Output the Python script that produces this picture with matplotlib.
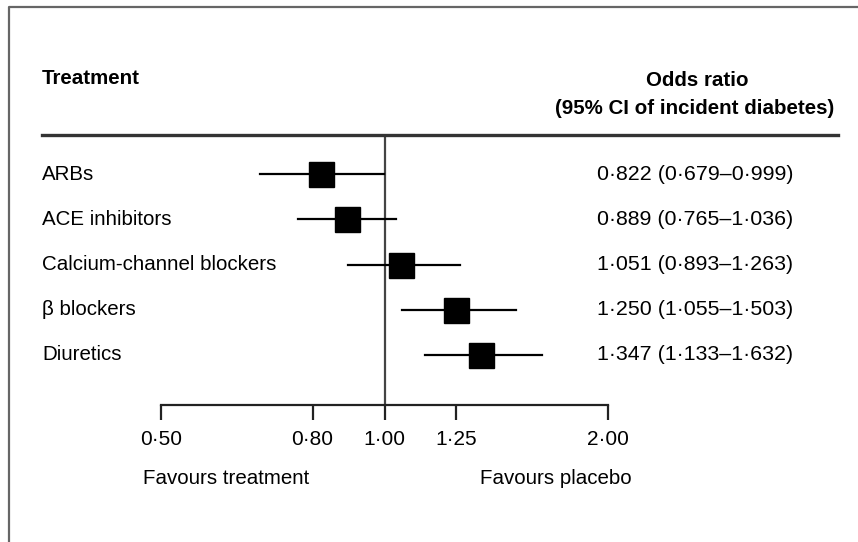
import matplotlib
matplotlib.use("Agg")
import matplotlib.pyplot as plt
import matplotlib.transforms as transforms
from matplotlib.lines import Line2D
from matplotlib.ticker import NullLocator

# data
treatments = ["ARBs", "ACE inhibitors", "Calcium-channel blockers", "\u03b2 blockers", "Diuretics"]
odds = [0.822, 0.889, 1.051, 1.250, 1.347]
ci_low = [0.679, 0.765, 0.893, 1.055, 1.133]
ci_high = [0.999, 1.036, 1.263, 1.503, 1.632]
tick_vals = [0.50, 0.80, 1.00, 1.25, 2.00]
tick_labels = ["0\u00b750", "0\u00b780", "1\u00b700", "1\u00b725", "2\u00b700"]

W, H = 858, 542
plt.rcParams["font.family"] = ["Liberation Sans", "DejaVu Sans"]

def fx(x):
    return x / W

def fy(y):
    return 1 - y / H

def fmt(v):
    return ("%.3f" % v).replace(".", "\u00b7")

fig = plt.figure(figsize=(W / 100, H / 100), dpi=100)

# frame (only top and left edges visible)
fig.add_artist(Line2D([fx(9), fx(9), 1.0], [0.0, fy(7), fy(7)], color="#666666", lw=1.6))

# forest axes: log x from 0.5 to 2.0
ax = fig.add_axes([fx(161), fy(405), fx(608) - fx(161), fy(135) - fy(405)])
ax.set_xscale("log")
ax.set_xlim(0.5, 2.0)
ax.set_ylim(5.105, -0.862)
ax.xaxis.set_minor_locator(NullLocator())
ax.set_xticks(tick_vals)
ax.set_xticklabels(tick_labels)
ax.set_yticks([])
for s in ["left", "top", "right"]:
    ax.spines[s].set_visible(False)
ax.spines["bottom"].set_linewidth(1.6)
ax.spines["bottom"].set_color("#222222")
ax.tick_params(axis="x", direction="out", length=11, width=1.6, color="#222222",
               pad=7, labelsize=15)
ax.patch.set_alpha(0)

ax.axvline(1.0, color="#444444", lw=1.6, zorder=1)

rows = list(range(len(treatments)))
for i in rows:
    ax.plot([ci_low[i], ci_high[i]], [i, i], color="black", lw=1.6, zorder=2)
ax.plot(odds, rows, linestyle="none", marker="s", markersize=18, color="black", zorder=3)

# row labels and values
trans = transforms.blended_transform_factory(fig.transFigure, ax.transData)
for i in rows:
    ax.text(fx(42), i, treatments[i], transform=trans, ha="left", va="center", fontsize=14.8)
    label = "%s (%s\u2013%s)" % (fmt(odds[i]), fmt(ci_low[i]), fmt(ci_high[i]))
    ax.text(fx(597), i, label, transform=trans, ha="left", va="center", fontsize=15.4)

# header
fig.text(fx(42), fy(78), "Treatment", ha="left", va="center", fontsize=14.8, fontweight="bold")
fig.text(fx(697), fy(80), "Odds ratio", ha="center", va="center", fontsize=14.8, fontweight="bold")
fig.text(fx(695), fy(108), "(95% CI of incident diabetes)", ha="center", va="center",
         fontsize=14.8, fontweight="bold")
fig.add_artist(Line2D([fx(42), fx(838)], [fy(135), fy(135)], color="#333333", lw=2.4))

# direction labels
fig.text(fx(143), fy(479), "Favours treatment", ha="left", va="center", fontsize=14.8)
fig.text(fx(480), fy(479), "Favours placebo", ha="left", va="center", fontsize=14.8)

fig.savefig("out.png", dpi=100)
